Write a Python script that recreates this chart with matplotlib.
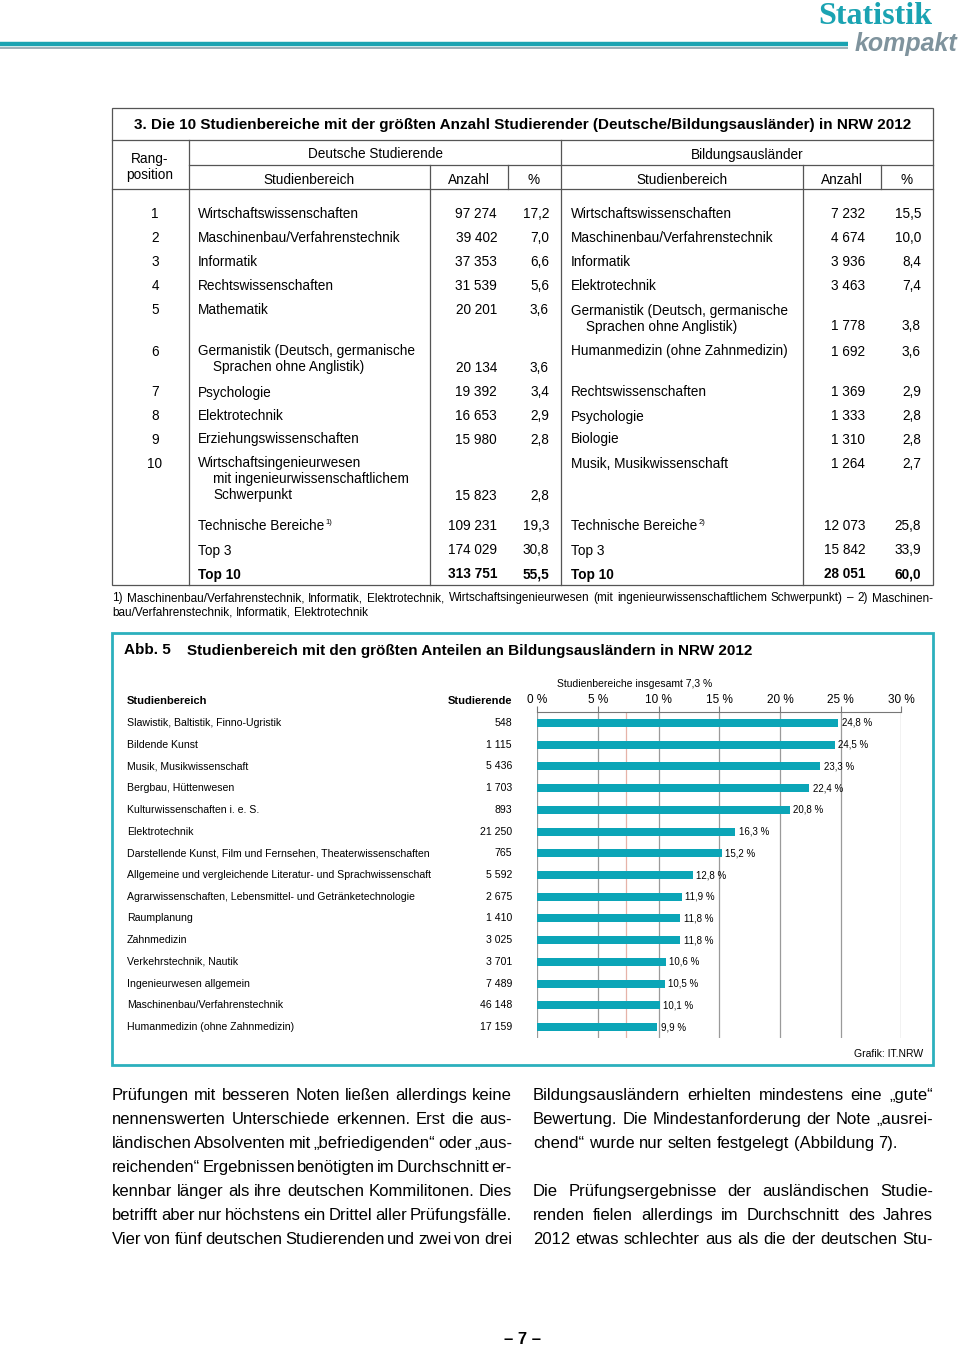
import matplotlib
matplotlib.use("Agg")
import matplotlib.pyplot as plt
from matplotlib.transforms import blended_transform_factory
from matplotlib.patches import Rectangle

plt.rcParams['font.family'] = ['Liberation Sans', 'DejaVu Sans']

# ---------------- data: table 3 ----------------
ranks = [1, 2, 3, 4, 5, 6, 7, 8, 9, 10]
de_fields = ["Wirtschaftswissenschaften", "Maschinenbau/Verfahrenstechnik", "Informatik",
             "Rechtswissenschaften", "Mathematik",
             "Germanistik (Deutsch, germanische\nSprachen ohne Anglistik)",
             "Psychologie", "Elektrotechnik", "Erziehungswissenschaften",
             "Wirtschaftsingenieurwesen\nmit ingenieurwissenschaftlichem\nSchwerpunkt"]
de_count = [97274, 39402, 37353, 31539, 20201, 20134, 19392, 16653, 15980, 15823]
de_pct = [17.2, 7.0, 6.6, 5.6, 3.6, 3.6, 3.4, 2.9, 2.8, 2.8]
ba_fields = ["Wirtschaftswissenschaften", "Maschinenbau/Verfahrenstechnik", "Informatik",
             "Elektrotechnik", "Germanistik (Deutsch, germanische\nSprachen ohne Anglistik)",
             "Humanmedizin (ohne Zahnmedizin)", "Rechtswissenschaften", "Psychologie",
             "Biologie", "Musik, Musikwissenschaft"]
ba_count = [7232, 4674, 3936, 3463, 1778, 1692, 1369, 1333, 1310, 1264]
ba_pct = [15.5, 10.0, 8.4, 7.4, 3.8, 3.6, 2.9, 2.8, 2.8, 2.7]
sum_labels = ["Technische Bereiche", "Top 3", "Top 10"]
sum_notes = ["1)", "", ""]
sum_notes_ba = ["2)", "", ""]
de_sum_count = [109231, 174029, 313751]
de_sum_pct = [19.3, 30.8, 55.5]
ba_sum_count = [12073, 15842, 28051]
ba_sum_pct = [25.8, 33.9, 60.0]

# ---------------- data: Abb. 5 ----------------
fields = ["Slawistik, Baltistik, Finno-Ugristik", "Bildende Kunst", "Musik, Musikwissenschaft",
          "Bergbau, Hüttenwesen", "Kulturwissenschaften i. e. S.", "Elektrotechnik",
          "Darstellende Kunst, Film und Fernsehen, Theaterwissenschaften",
          "Allgemeine und vergleichende Literatur- und Sprachwissenschaft",
          "Agrarwissenschaften, Lebensmittel- und Getränketechnologie", "Raumplanung",
          "Zahnmedizin", "Verkehrstechnik, Nautik", "Ingenieurwesen allgemein",
          "Maschinenbau/Verfahrenstechnik", "Humanmedizin (ohne Zahnmedizin)"]
students = [548, 1115, 5436, 1703, 893, 21250, 765, 5592, 2675, 1410, 3025, 3701, 7489, 46148, 17159]
shares = [24.8, 24.5, 23.3, 22.4, 20.8, 16.3, 15.2, 12.8, 11.9, 11.8, 11.8, 10.6, 10.5, 10.1, 9.9]
total_share = 7.3
ticks = [0, 5, 10, 15, 20, 25, 30]

left_par = ["Prüfungen mit besseren Noten ließen allerdings keine",
            "nennenswerten Unterschiede erkennen. Erst die aus-",
            "ländischen Absolventen mit „befriedigenden“ oder „aus-",
            "reichenden“ Ergebnissen benötigten im Durchschnitt er-",
            "kennbar länger als ihre deutschen Kommilitonen. Dies",
            "betrifft aber nur höchstens ein Drittel aller Prüfungsfälle.",
            "Vier von fünf deutschen Studierenden und zwei von drei"]
right_par = ["Bildungsausländern erhielten mindestens eine „gute“",
             "Bewertung. Die Mindestanforderung der Note „ausrei-",
             "chend“ wurde nur selten festgelegt (Abbildung 7).",
             "",
             "Die Prüfungsergebnisse der ausländischen Studie-",
             "renden fielen allerdings im Durchschnitt des Jahres",
             "2012 etwas schlechter aus als die der deutschen Stu-"]
right_par_last = [False, False, True, True, False, False, False]

footnote = ["1) Maschinenbau/Verfahrenstechnik, Informatik, Elektrotechnik, Wirtschaftsingenieurwesen "
            "(mit ingenieurwissenschaftlichem Schwerpunkt) – 2) Maschinen-",
            "bau/Verfahrenstechnik, Informatik, Elektrotechnik"]

TEAL = '#0ba5b7'
LINE = '#555555'


def num(n):
    return f"{n:,}".replace(",", " ")


def dec(v):
    return f"{v:.1f}".replace(".", ",")


fig = plt.figure(figsize=(9.6, 13.47), dpi=100)
page = fig.add_axes([0, 0, 1, 1])
page.set_xlim(0, 960)
page.set_ylim(1347, 0)
page.axis('off')
renderer = fig.canvas.get_renderer()


def width(t):
    return t.get_window_extent(renderer).width


def space_width(size):
    a = page.text(0, 500, 'a a', fontsize=size)
    b = page.text(0, 500, 'aa', fontsize=size)
    w = width(a) - width(b)
    a.remove()
    b.remove()
    return w


def justify(line, x0, x1, y, size, last=False, **kw):
    words = line.split(' ')
    texts = [page.text(0, y, w, fontsize=size, va='center_baseline', **kw) for w in words]
    ws = [width(t) for t in texts]
    if last or len(words) == 1:
        gap = space_width(size)
    else:
        gap = (x1 - x0 - sum(ws)) / (len(words) - 1)
    x = x0
    for t, w in zip(texts, ws):
        t.set_x(x)
        x += w + gap


# ---------------- header logo ----------------
page.plot([0, 848], [44, 44], color='#1aa3b2', lw=3.2, solid_capstyle='butt')
page.plot([0, 848], [47.5, 47.5], color='#8fa3ad', lw=1.2, solid_capstyle='butt')
page.text(932, 13, "Statistik", fontsize=23, fontweight='bold', color='#1aa3b2',
          family=['Liberation Serif', 'DejaVu Serif'], ha='right', va='center_baseline')
page.text(957, 42, "kompakt", fontsize=18, fontweight='bold', style='italic', color='#7f939d',
          family=['Liberation Sans Narrow', 'Liberation Sans'], ha='right', va='center_baseline')

# ---------------- table ----------------
tx0, tx1 = 112, 933
cols = [189, 430, 508, 561, 803, 881]
lw = 0.9
page.add_patch(Rectangle((tx0, 108), tx1 - tx0, 585 - 108, fill=False, ec=LINE, lw=lw))
page.plot([tx0, tx1], [140, 140], color=LINE, lw=lw)
page.plot([189, tx1], [165, 165], color=LINE, lw=lw)
page.plot([tx0, tx1], [189, 189], color=LINE, lw=lw)
for c in cols:
    top = 165 if c in (430, 508, 803, 881) else 140
    bottom = 189 if c in (508, 881) else 585
    page.plot([c, c], [top, bottom], color=LINE, lw=lw)

page.text((tx0 + tx1) / 2, 124,
          "3. Die 10 Studienbereiche mit der größten Anzahl Studierender (Deutsche/Bildungsausländer) in NRW 2012",
          fontsize=11, fontweight='bold', ha='center', va='center_baseline')
hs = 9.8
page.text(150, 158, "Rang-", fontsize=hs, ha='center', va='center_baseline')
page.text(150, 174, "position", fontsize=hs, ha='center', va='center_baseline')
page.text(375, 153, "Deutsche Studierende", fontsize=hs, ha='center', va='center_baseline')
page.text(747, 153, "Bildungsausländer", fontsize=hs, ha='center', va='center_baseline')
for xc, s in zip([309, 469, 534, 682, 842, 907],
                 ["Studienbereich", "Anzahl", "%", "Studienbereich", "Anzahl", "%"]):
    page.text(xc, 178, s, fontsize=hs, ha='center', va='center_baseline')

row_y = [212, 236, 260, 285, 309, 350, 391, 415, 438, 462]
step = 16
bs = 9.8


def cell(field, x, y):
    lines = field.split("\n")
    for k, ln in enumerate(lines):
        page.text(x + (15 if k else 0), y + k * step, ln, fontsize=bs, va='center_baseline')
    return y + (len(lines) - 1) * step


for i, r in enumerate(ranks):
    y = row_y[i]
    page.text(155, y, str(r), fontsize=bs, ha='center', va='center_baseline')
    yl = cell(de_fields[i], 198, y)
    page.text(497, yl, num(de_count[i]), fontsize=bs, ha='right', va='center_baseline')
    page.text(549, yl, dec(de_pct[i]), fontsize=bs, ha='right', va='center_baseline')
    yr = cell(ba_fields[i], 571, y)
    page.text(865, yr, num(ba_count[i]), fontsize=bs, ha='right', va='center_baseline')
    page.text(921, yr, dec(ba_pct[i]), fontsize=bs, ha='right', va='center_baseline')

sum_y = [525, 549, 573]
for i, lab in enumerate(sum_labels):
    y = sum_y[i]
    fw = 'bold' if i == 2 else 'normal'
    for x, note, cnt, pct, xa, xp in [(198, sum_notes[i], de_sum_count[i], de_sum_pct[i], 497, 549),
                                       (571, sum_notes_ba[i], ba_sum_count[i], ba_sum_pct[i], 865, 921)]:
        t = page.text(x, y, lab, fontsize=bs, fontweight=fw, va='center_baseline')
        if note:
            page.text(x + width(t) + 1, y - 4, note, fontsize=5.5, va='center_baseline')
        page.text(xa, y, num(cnt), fontsize=bs, fontweight=fw, ha='right', va='center_baseline')
        page.text(xp, y, dec(pct), fontsize=bs, fontweight=fw, ha='right', va='center_baseline')

justify(footnote[0], 112, 933, 597, 8.5)
justify(footnote[1], 112, 933, 611, 8.5, last=True)

# ---------------- Abb. 5 ----------------
page.add_patch(Rectangle((112, 633), 933 - 112, 1065 - 633, fill=False, ec='#2cb0bd', lw=2))
page.text(124, 649, "Abb. 5", fontsize=11, fontweight='bold', va='center_baseline')
page.text(187, 649, "Studienbereich mit den größten Anteilen an Bildungsausländern in NRW 2012",
          fontsize=11, fontweight='bold', va='center_baseline')

ax = fig.add_axes([537 / 960, 1 - 1038 / 1347, (901.5 - 537) / 960, (1038 - 712) / 1347])
pos = list(range(len(fields)))
ax.barh(pos, shares, height=0.37, color=TEAL, zorder=3)
ax.set_xlim(0, 30)
ax.set_ylim(len(fields) - 0.5, -0.5)
ax.set_xticks(ticks)
ax.set_xticklabels([f"{t} %" for t in ticks], fontsize=8.5)
ax.xaxis.tick_top()
ax.tick_params(axis='x', length=4, width=0.8, color='#777777', pad=0.5)
ax.tick_params(axis='y', left=False, labelleft=False)
for t in ticks:
    ax.axvline(t, color='#9a9a9a', lw=0.9, zorder=1)
ax.axvline(total_share, color='#e6b3a8', lw=0.9, zorder=1)
for s in ['right', 'bottom', 'left']:
    ax.spines[s].set_visible(False)
ax.spines['top'].set_color('#777777')
ax.spines['top'].set_linewidth(0.8)
ax.set_facecolor('none')
for p, v in zip(pos, shares):
    ax.text(v + 0.3, p, dec(v) + " %", fontsize=7, va='center', zorder=4)
ax.text(total_share + 0.7, -1.8, "Studienbereiche insgesamt " + dec(total_share) + " %",
        fontsize=7.5, ha='center', va='center')

tr = blended_transform_factory(page.transData, ax.transData)
page.text(127, 700, "Studienbereich", fontsize=8, fontweight='bold', va='center_baseline')
page.text(512, 700, "Studierende", fontsize=8, fontweight='bold', ha='right', va='center_baseline')
for p, f, n in zip(pos, fields, students):
    page.text(127, p, f, fontsize=7.6, va='center', transform=tr)
    page.text(512, p, num(n), fontsize=7.6, ha='right', va='center', transform=tr)
page.text(923, 1053, "Grafik: IT.NRW", fontsize=7.5, ha='right', va='center_baseline')

# ---------------- body text ----------------
par_y = [1094, 1118, 1142, 1166, 1190, 1214, 1238]
for y, ln in zip(par_y, left_par):
    justify(ln, 112, 512, y, 12)
for y, ln, last in zip(par_y, right_par, right_par_last):
    if ln:
        justify(ln, 533, 933, y, 12, last=last)

page.text(522, 1338, "– 7 –", fontsize=12, fontweight='bold', ha='center', va='center_baseline')

fig.savefig("out.png", dpi=100)
